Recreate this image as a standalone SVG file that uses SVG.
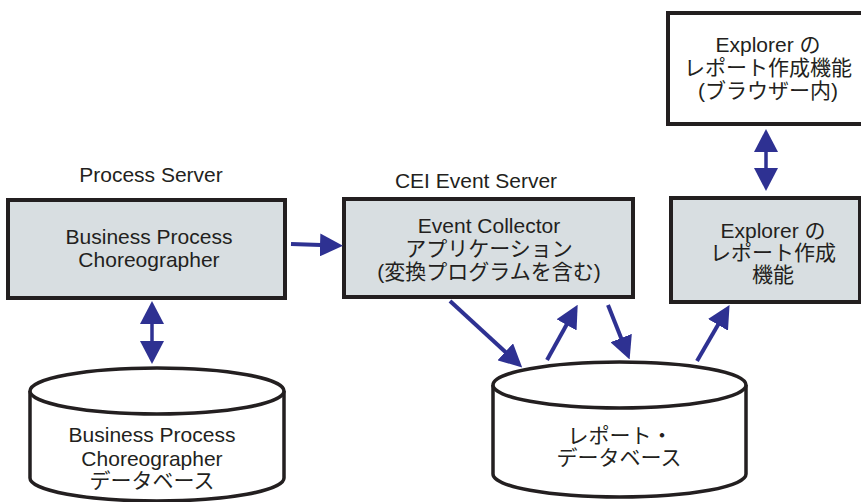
<svg xmlns="http://www.w3.org/2000/svg" width="861" height="502" viewBox="0 0 861 502">
<style>
text{font-family:"Liberation Sans","Noto Sans CJK JP",sans-serif;font-size:21px;fill:#231f20;text-anchor:middle}
.box{stroke:#231f20;stroke-width:4;fill:#d8dee1}
.wbox{stroke:#231f20;stroke-width:4;fill:#ffffff}
.cyl{stroke:#231f20;stroke-width:3.5;fill:#ffffff}
.arr{stroke:#2e3192;stroke-width:4;fill:none;marker-end:url(#ah)}
.darr{stroke:#2e3192;stroke-width:3.5;fill:none;marker-start:url(#dh);marker-end:url(#dh)}
</style>
<defs>
<marker id="ah" viewBox="0 0 23 23" refX="1" refY="11.5" markerWidth="23" markerHeight="23" markerUnits="userSpaceOnUse" orient="auto">
<path d="M0,0 L23,11.5 L0,23 z" fill="#2e3192"/>
</marker>
<marker id="dh" viewBox="0 0 23 24" refX="1" refY="12" markerWidth="23" markerHeight="24" markerUnits="userSpaceOnUse" orient="auto-start-reverse">
<path d="M0,0 L23,12 L0,24 z" fill="#2e3192"/>
</marker>
</defs>
<rect width="861" height="502" fill="#ffffff"/>

<g id="label-process-server"><text x="151" y="182">Process Server</text></g>
<g id="label-cei"><text x="476" y="188">CEI Event Server</text></g>

<g id="bpc">
<rect class="box" x="8" y="200" width="277" height="98"/>
<text x="149" y="244">Business Process</text>
<text x="149" y="267">Choreographer</text>
</g>

<g id="event-collector">
<rect class="box" x="344" y="199" width="289" height="98"/>
<text x="489" y="233">Event Collector</text>
<text x="489" y="256">アプリケーション</text>
<text x="489" y="279">(変換プログラムを含む)</text>
</g>

<g id="explorer-browser">
<rect class="wbox" x="668" y="13" width="200" height="111"/>
<text x="768" y="52">Explorer の</text>
<text x="768" y="75">レポート作成機能</text>
<text x="768" y="98">(ブラウザー内)</text>
</g>

<g id="explorer">
<rect class="box" x="671" y="198" width="189" height="104"/>
<text x="773" y="238">Explorer の</text>
<text x="773" y="260">レポート作成</text>
<text x="773" y="282">機能</text>
</g>

<g id="bpc-db">
<path class="cyl" d="M30,391 L30,478 A127,23 0 0 0 284,478 L284,391"/>
<ellipse class="cyl" cx="157" cy="391" rx="127" ry="23"/>
<text x="152" y="442">Business Process</text>
<text x="152" y="466">Choreographer</text>
<text x="152" y="488">データベース</text>
</g>

<g id="report-db">
<path class="cyl" d="M493,385 L493,474 A126.5,23 0 0 0 746,474 L746,385"/>
<ellipse class="cyl" cx="619.5" cy="385" rx="126.5" ry="23"/>
<text x="620" y="443">レポート・</text>
<text x="619" y="465">データベース</text>
</g>

<g id="connectors">
<line class="arr" x1="291" y1="244" x2="321" y2="245"/>
<line class="arr" x1="450" y1="301" x2="506" y2="352.5"/>
<line class="arr" x1="547" y1="360" x2="567" y2="324"/>
<line class="arr" x1="608" y1="305" x2="621.5" y2="339"/>
<line class="arr" x1="697" y1="361" x2="718.5" y2="324"/>
<line class="darr" x1="152" y1="323" x2="152" y2="342"/>
<line class="darr" x1="766" y1="151" x2="766" y2="169"/>
</g>
</svg>
